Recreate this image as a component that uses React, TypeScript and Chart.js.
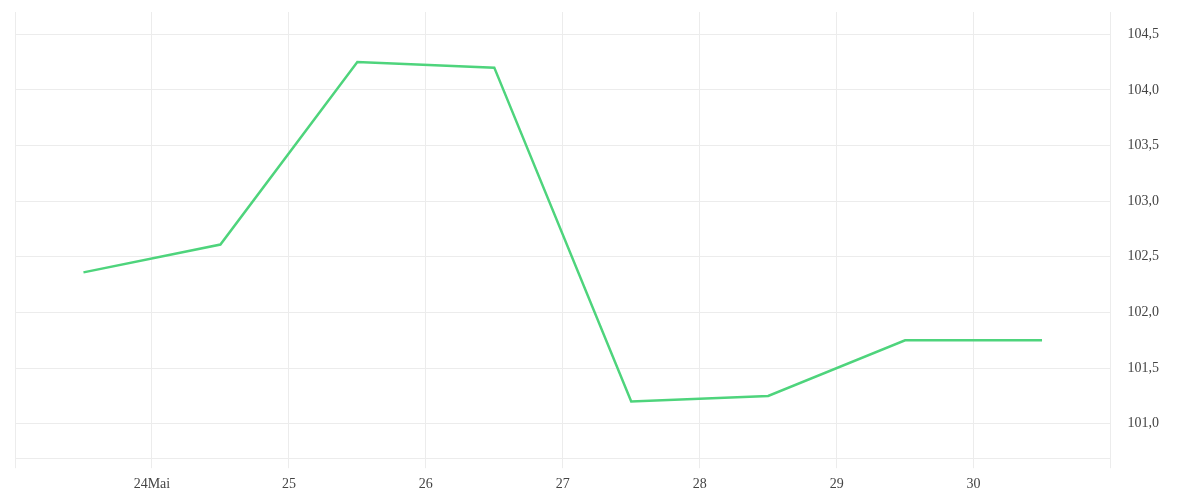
import { useEffect, useRef } from 'react';
import { Chart, registerables } from 'chart.js';

Chart.register(...registerables);

// hours since 23 May 00:00, one reading per day at noon
const hours = [12, 36, 60, 84, 108, 132, 156, 180];
const prices = [102.36, 102.61, 104.25, 104.2, 101.2, 101.25, 101.75, 101.75];
// day boundaries 23 May .. 31 May; first and last are not labelled
const dayLabels = ['', '24Mai', '25', '26', '27', '28', '29', '30', ''];

const gridColor = '#ececec';
const textColor = '#444';
const font = { family: "'Liberation Serif', serif", size: 14 };

export default function App() {
  const canvasRef = useRef<HTMLCanvasElement>(null);

  useEffect(() => {
    if (!canvasRef.current) return;
    const chart = new Chart(canvasRef.current, {
      type: 'line',
      data: {
        datasets: [
          {
            data: hours.map((h, i) => ({ x: h, y: prices[i] })),
            borderColor: '#4ed47c',
            borderWidth: 2.5,
            pointRadius: 0,
            tension: 0,
            fill: false,
          },
        ],
      },
      options: {
        responsive: false,
        animation: false,
        layout: { padding: { left: 15, top: 12, right: 41, bottom: 0 } },
        plugins: { legend: { display: false }, tooltip: { enabled: false } },
        scales: {
          x: {
            type: 'linear',
            min: 0,
            max: 192,
            grid: { color: gridColor, tickLength: 10 },
            border: { color: gridColor },
            ticks: {
              stepSize: 24,
              autoSkip: false,
              maxRotation: 0,
              padding: 7.5,
              color: textColor,
              font,
              callback: (v) => dayLabels[Math.round(Number(v) / 24)] ?? '',
            },
          },
          y: {
            position: 'right',
            min: 100.69,
            max: 104.7,
            // invisible tick marks give the gap between plot and labels
            grid: { color: gridColor, tickColor: 'rgba(0,0,0,0)', tickLength: 17 },
            border: { display: false },
            ticks: {
              stepSize: 0.5,
              includeBounds: false,
              padding: 0,
              color: textColor,
              font,
              callback: (v) => Number(v).toFixed(1).replace('.', ','),
            },
          },
        },
      },
    });
    return () => chart.destroy();
  }, []);

  return (
    <div style={{ position: 'absolute', left: 0, top: 0, width: 1200, height: 500, background: '#fff' }}>
      <canvas ref={canvasRef} width={1200} height={500} />
    </div>
  );
}
